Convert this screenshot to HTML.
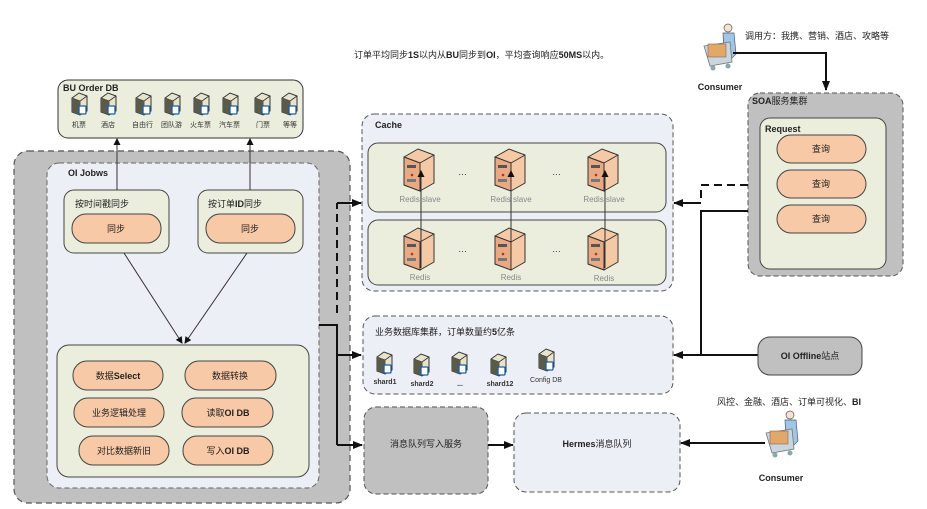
<!DOCTYPE html>
<html><head><meta charset="utf-8">
<style>
html,body{margin:0;padding:0;background:#fff;}
svg{display:block;font-family:"Liberation Sans","Noto Sans CJK SC",sans-serif;}
.t{font-size:9px;fill:#222;}
.b{font-size:9px;font-weight:bold;fill:#222;}
</style></head><body>
<svg width="927" height="509" viewBox="0 0 927 509" xmlns="http://www.w3.org/2000/svg">
<defs>
<marker id="ar" markerWidth="10" markerHeight="8" refX="9" refY="4" orient="auto" markerUnits="userSpaceOnUse"><path d="M0,0 L10,4 L0,8 z" fill="#111"/></marker>
<marker id="as" markerWidth="7" markerHeight="7" refX="6" refY="3.5" orient="auto" markerUnits="userSpaceOnUse"><path d="M0,0 L7,3.5 L0,7 z" fill="#111"/></marker>
<g id="db">
<path d="M2,5 L9,0 L17,3 L17,18 L10,22 L2,19 z" fill="#e8e4cc" stroke="#333" stroke-width="1"/>
<path d="M2,5 L10,8 L17,3" fill="none" stroke="#333" stroke-width="0.8"/>
<path d="M10,8 L10,22" stroke="#333" stroke-width="0.8"/>
<path d="M2,5 L10,8 L10,22 L2,19 z" fill="#5a5a4a"/>
<rect x="9" y="13" width="7" height="8" rx="1" fill="#fff" stroke="#1a5ea8" stroke-width="1.3"/>
</g>
<g id="srv">
<path d="M0,8 L14,0 L30,6 L30,34 L16,42 L0,36 z" fill="#f6c9a6" stroke="#333" stroke-width="1"/>
<path d="M0,8 L16,14 L30,6" fill="none" stroke="#333" stroke-width="1"/>
<path d="M16,14 L16,42" stroke="#333" stroke-width="1"/>
<path d="M0,8 L16,14 L16,42 L0,36 z" fill="#e9a983" stroke="#333"/>
<rect x="3" y="16" width="9" height="3" fill="#555"/><circle cx="8" cy="26" r="1.3" fill="#a33"/><rect x="3" y="30" width="9" height="3" fill="#777"/>
</g>
<g id="cons">
<circle cx="24" cy="4" r="4" fill="#f4e3cf" stroke="#555" stroke-width="0.7"/>
<path d="M19,9 L30,9 L32,30 L26,36 L20,30 z" fill="#9ec7e6" stroke="#557" stroke-width="0.7"/>
<path d="M0,22 L26,18 L28,38 L6,42 z" fill="#c9d6e0" stroke="#777" stroke-width="0.8"/>
<rect x="4" y="20" width="18" height="13" fill="#e2a86a" stroke="#865" stroke-width="0.6"/>
<circle cx="9" cy="44" r="2.5" fill="#8aa"/><circle cx="24" cy="42" r="2.5" fill="#8aa"/>
</g>
</defs>

<!-- top text -->
<text x="354" y="58" class="t">订单平均同步<tspan font-weight="bold">1S</tspan>以内从<tspan font-weight="bold">BU</tspan>同步到<tspan font-weight="bold">OI</tspan>，平均查询响应<tspan font-weight="bold">50MS</tspan>以内。</text>

<!-- BU Order DB -->
<rect x="58" y="80" width="245" height="58" rx="10" fill="#ebeedd" stroke="#333" stroke-width="1"/>
<text x="63" y="91" class="b">BU Order DB</text>
<g>
<use href="#db" x="70" y="93"/><use href="#db" x="99" y="93"/><use href="#db" x="134" y="93"/><use href="#db" x="163" y="93"/><use href="#db" x="192" y="93"/><use href="#db" x="221" y="93"/><use href="#db" x="253" y="93"/><use href="#db" x="280" y="93"/>
</g>
<g font-size="7" fill="#333">
<text x="72" y="127">机票</text><text x="101" y="127">酒店</text><text x="132" y="127">自由行</text><text x="161" y="127">团队游</text><text x="190" y="127">火车票</text><text x="219" y="127">汽车票</text><text x="256" y="127">门票</text><text x="283" y="127">等等</text>
</g>

<!-- outer gray -->
<rect x="14" y="151" width="336" height="352" rx="14" fill="#c0c0c0" stroke="#555" stroke-width="1.2" stroke-dasharray="6,4"/>
<rect x="47" y="163" width="272" height="325" rx="12" fill="#eceff6" stroke="#666" stroke-width="1" stroke-dasharray="5,3"/>
<text x="68" y="176" class="b">OI Jobws</text>

<rect x="64" y="190" width="105" height="63" rx="10" fill="#ebeedd" stroke="#444"/>
<text x="75" y="207" class="t">按时间戳同步</text>
<rect x="72" y="214" width="89" height="29" rx="14" fill="#f8c9a6" stroke="#444"/>
<text x="116" y="232" class="t" text-anchor="middle">同步</text>
<rect x="198" y="190" width="105" height="63" rx="10" fill="#ebeedd" stroke="#444"/>
<text x="208" y="207" class="t">按订单<tspan font-weight="bold">ID</tspan>同步</text>
<rect x="206" y="214" width="89" height="29" rx="14" fill="#f8c9a6" stroke="#444"/>
<text x="250" y="232" class="t" text-anchor="middle">同步</text>

<line x1="117" y1="190" x2="117" y2="139" stroke="#333" marker-end="url(#as)"/>
<line x1="250" y1="190" x2="250" y2="139" stroke="#333" marker-end="url(#as)"/>
<line x1="124" y1="253" x2="182" y2="343" stroke="#333" marker-end="url(#as)"/>
<line x1="247" y1="253" x2="185" y2="343" stroke="#333" marker-end="url(#as)"/>

<rect x="57" y="345" width="252" height="132" rx="12" fill="#ebeedd" stroke="#444"/>
<g>
<rect x="73" y="361" width="90" height="29" rx="14" fill="#f8c9a6" stroke="#444"/><text x="118" y="379" class="t" text-anchor="middle">数据<tspan font-weight="bold">Select</tspan></text>
<rect x="185" y="361" width="91" height="29" rx="14" fill="#f8c9a6" stroke="#444"/><text x="230" y="379" class="t" text-anchor="middle">数据转换</text>
<rect x="74" y="398" width="90" height="29" rx="14" fill="#f8c9a6" stroke="#444"/><text x="119" y="416" class="t" text-anchor="middle">业务逻辑处理</text>
<rect x="182" y="398" width="91" height="29" rx="14" fill="#f8c9a6" stroke="#444"/><text x="228" y="416" class="t" text-anchor="middle">读取<tspan font-weight="bold">OI DB</tspan></text>
<rect x="79" y="436" width="90" height="29" rx="14" fill="#f8c9a6" stroke="#444"/><text x="124" y="454" class="t" text-anchor="middle">对比数据新旧</text>
<rect x="183" y="436" width="90" height="29" rx="14" fill="#f8c9a6" stroke="#444"/><text x="228" y="454" class="t" text-anchor="middle">写入<tspan font-weight="bold">OI DB</tspan></text>
</g>

<!-- left connectors -->
<polyline points="337,313 337,203" fill="none" stroke="#111" stroke-width="2" stroke-dasharray="8,5"/>
<line x1="337" y1="203" x2="361" y2="203" stroke="#111" stroke-width="2" marker-end="url(#ar)"/>
<polyline points="319,325 337,325 337,445" fill="none" stroke="#111" stroke-width="2"/>
<line x1="337" y1="355" x2="361" y2="355" stroke="#111" stroke-width="2" marker-end="url(#ar)"/>
<line x1="337" y1="445" x2="362" y2="445" stroke="#111" stroke-width="2" marker-end="url(#ar)"/>

<!-- Cache -->
<rect x="362" y="114" width="311" height="177" rx="12" fill="#eceff6" stroke="#555" stroke-dasharray="5,3"/>
<text x="375" y="128" class="b">Cache</text>
<rect x="368" y="143" width="298" height="69" rx="10" fill="#ebeedd" stroke="#444"/>
<rect x="368" y="220" width="298" height="65" rx="10" fill="#ebeedd" stroke="#444"/>
<use href="#srv" x="404" y="149"/><use href="#srv" x="495" y="149"/><use href="#srv" x="588" y="149"/>
<use href="#srv" x="404" y="228"/><use href="#srv" x="495" y="228"/><use href="#srv" x="588" y="228"/>
<g font-size="8" fill="#888" text-anchor="middle">
<text x="420" y="202">Redis slave</text><text x="511" y="202">Redis slave</text><text x="604" y="202">Redis slave</text>
<text x="420" y="280">Redis</text><text x="511" y="280">Redis</text><text x="604" y="281">Redis</text>
</g>
<g font-size="9" fill="#333"><text x="458" y="175">…</text><text x="552" y="175">…</text><text x="458" y="252">…</text><text x="552" y="252">…</text></g>
<line x1="421" y1="268" x2="421" y2="171" stroke="#333" marker-end="url(#as)"/>
<line x1="511" y1="268" x2="511" y2="171" stroke="#333" marker-end="url(#as)"/>
<line x1="605" y1="268" x2="605" y2="171" stroke="#333" marker-end="url(#as)"/>

<!-- DB cluster -->
<rect x="363" y="316" width="310" height="78" rx="12" fill="#eceff6" stroke="#555" stroke-dasharray="5,3"/>
<text x="375" y="335" class="t">业务数据库集群，订单数量约<tspan font-weight="bold">5</tspan>亿条</text>
<use href="#db" x="375" y="352"/><use href="#db" x="412" y="354"/><use href="#db" x="450" y="352"/><use href="#db" x="489" y="354"/><use href="#db" x="537" y="349"/>
<g font-size="7" font-weight="bold" fill="#333" text-anchor="middle">
<text x="385" y="384">shard1</text><text x="422" y="386">shard2</text><text x="460" y="386">...</text><text x="500" y="386">shard12</text><text x="546" y="382" font-weight="normal">Config DB</text>
</g>

<!-- msg services -->
<rect x="364" y="407" width="124" height="87" rx="12" fill="#c0c0c0" stroke="#555" stroke-dasharray="5,3"/>
<text x="426" y="447" class="t" text-anchor="middle">消息队列写入服务</text>
<rect x="514" y="413" width="166" height="79" rx="12" fill="#eceff6" stroke="#555" stroke-dasharray="5,3"/>
<text x="597" y="447" class="t" text-anchor="middle"><tspan font-weight="bold">Hermes</tspan>消息队列</text>
<line x1="488" y1="445" x2="513" y2="445" stroke="#111" stroke-width="2" marker-end="url(#ar)"/>

<!-- SOA -->
<rect x="748" y="93" width="155" height="183" rx="12" fill="#c0c0c0" stroke="#555" stroke-dasharray="5,3"/>
<text x="752" y="104" class="b">SOA<tspan font-weight="normal">服务集群</tspan></text>
<rect x="760" y="118" width="126" height="151" rx="10" fill="#ebeedd" stroke="#444"/>
<text x="765" y="132" class="b">Request</text>
<rect x="777" y="135" width="89" height="28" rx="14" fill="#f8c9a6" stroke="#444"/><text x="821" y="152" class="t" text-anchor="middle">查询</text>
<rect x="777" y="170" width="89" height="28" rx="14" fill="#f8c9a6" stroke="#444"/><text x="821" y="187" class="t" text-anchor="middle">查询</text>
<rect x="777" y="205" width="89" height="28" rx="14" fill="#f8c9a6" stroke="#444"/><text x="821" y="222" class="t" text-anchor="middle">查询</text>

<polyline points="748,185 701,185 701,203" fill="none" stroke="#111" stroke-width="2" stroke-dasharray="8,5"/>
<line x1="701" y1="203" x2="674" y2="203" stroke="#111" stroke-width="2" marker-end="url(#ar)"/>
<polyline points="748,211 701,211 701,355" fill="none" stroke="#111" stroke-width="2"/>
<line x1="758" y1="355" x2="674" y2="355" stroke="#111" stroke-width="2" marker-end="url(#ar)"/>

<!-- OI Offline -->
<rect x="758" y="337" width="104" height="38" rx="12" fill="#c0c0c0" stroke="#444"/>
<text x="810" y="359" class="t" text-anchor="middle"><tspan font-weight="bold">OI Offline</tspan>站点</text>

<!-- top consumer -->
<use href="#cons" x="704" y="24"/>
<text x="745" y="39" class="t">调用方：我携、营销、酒店、攻略等</text>
<text x="720" y="90" class="b" text-anchor="middle">Consumer</text>
<polyline points="733,53 826,53 826,90" fill="none" stroke="#111" stroke-width="2" marker-end="url(#ar)"/>

<!-- bottom consumer -->
<text x="717" y="405" class="t">风控、金融、酒店、订单可视化、<tspan font-weight="bold">BI</tspan></text>
<use href="#cons" x="766" y="411"/>
<text x="781" y="481" class="b" text-anchor="middle">Consumer</text>
<line x1="765" y1="443" x2="681" y2="443" stroke="#111" stroke-width="2" marker-end="url(#ar)"/>
</svg>
</body></html>
